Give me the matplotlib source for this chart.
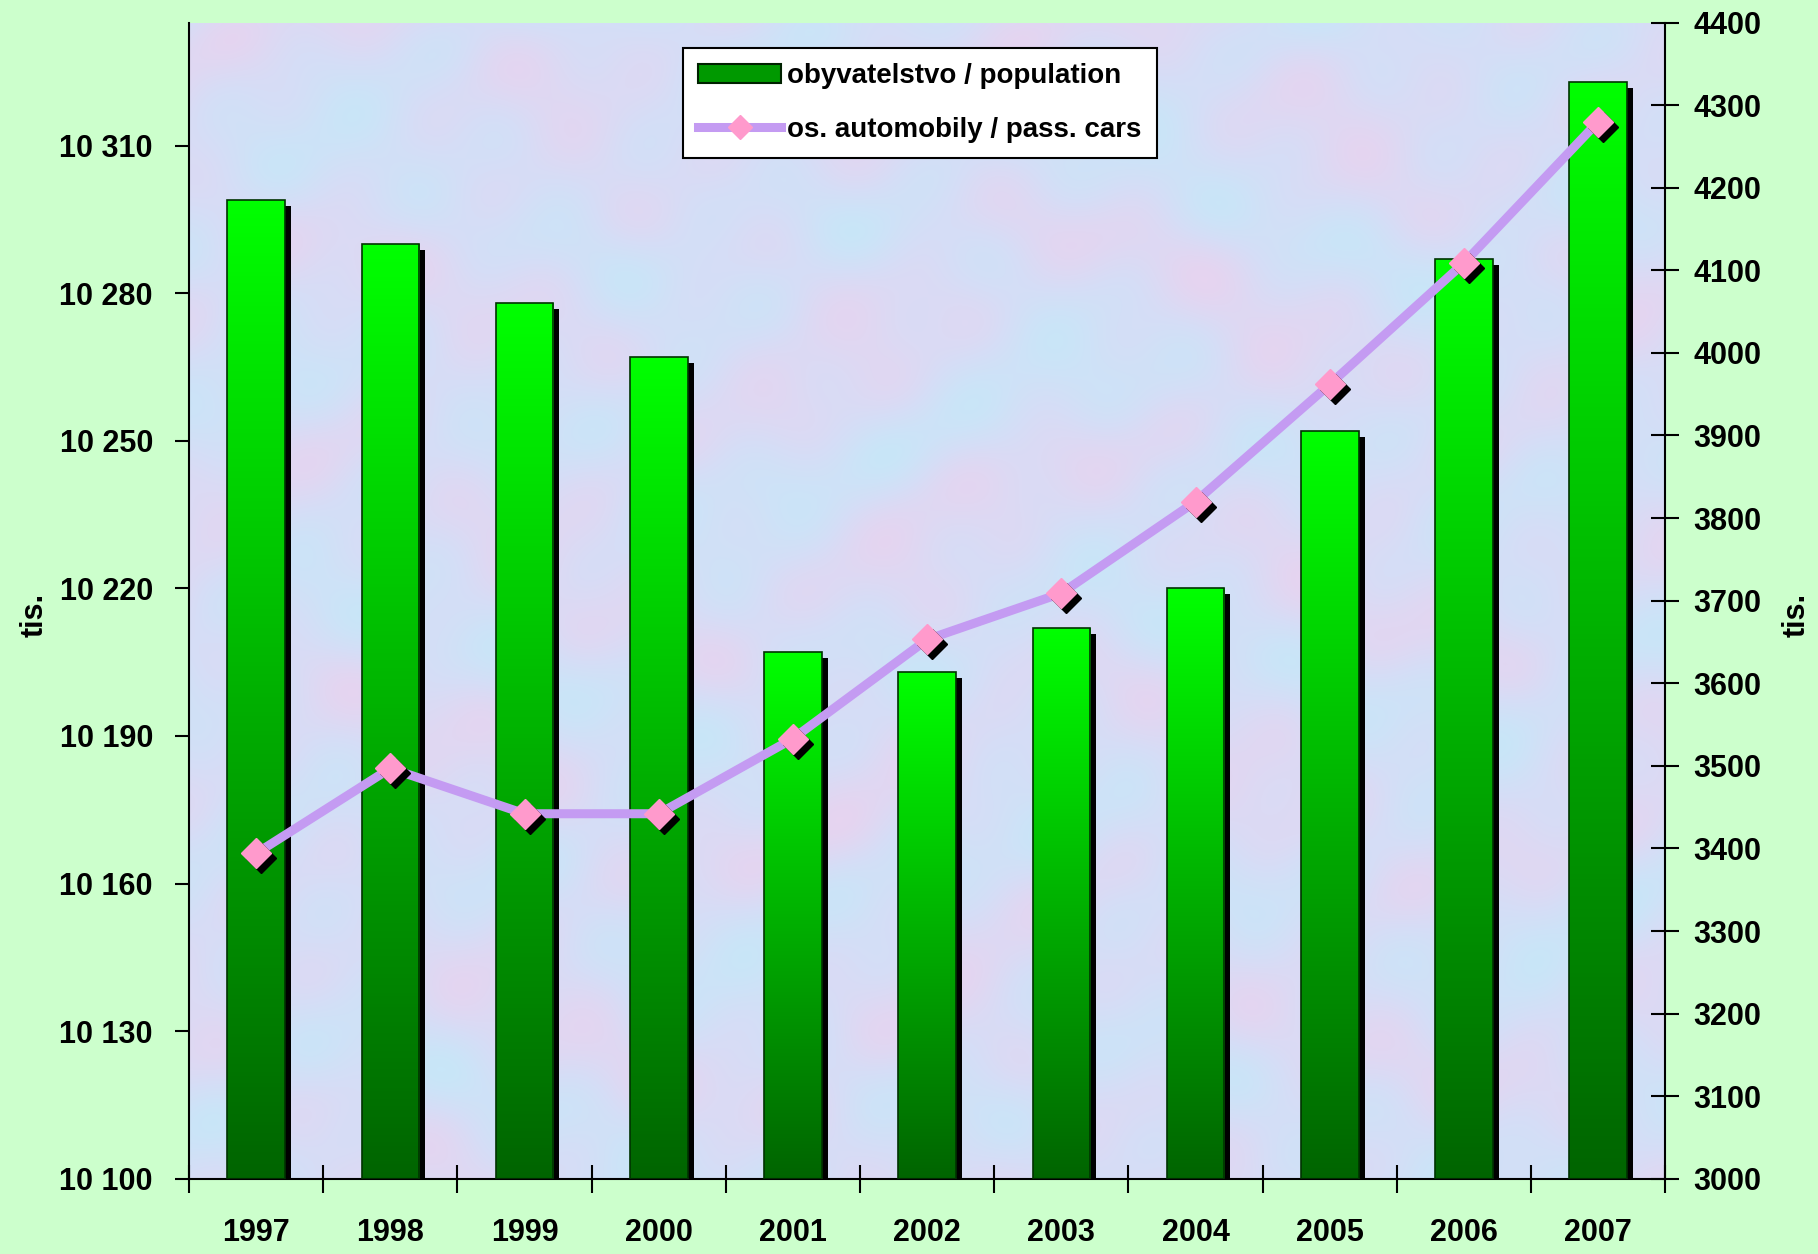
import numpy as np
import matplotlib
matplotlib.use("Agg")
import matplotlib.pyplot as plt
from matplotlib.colors import LinearSegmentedColormap
from matplotlib.transforms import ScaledTranslation
from matplotlib.patches import Patch
from matplotlib.lines import Line2D

# ______________________________________________________________________________
# Data

years = ["1997", "1998", "1999", "2000", "2001", "2002",
         "2003", "2004", "2005", "2006", "2007"]
# obyvatelstvo / population (tis.)
population = [10299, 10290, 10278, 10267, 10207, 10203,
              10212, 10220, 10252, 10287, 10323]
# os. automobily / pass. cars (tis.)
cars = [3394, 3497, 3442, 3442, 3533, 3653,
        3709, 3820, 3962, 4109, 4280]

left_ticks = [10100, 10130, 10160, 10190, 10220, 10250, 10280, 10310]
right_ticks = [3000, 3100, 3200, 3300, 3400, 3500, 3600, 3700,
               3800, 3900, 4000, 4100, 4200, 4300, 4400]

# ______________________________________________________________________________
# Style

plt.rcParams['font.family'] = ['Liberation Sans Narrow', 'Liberation Sans', 'DejaVu Sans']
plt.rcParams['font.weight'] = 'bold'
plt.rcParams['font.size'] = 22

fig_bg = '#CCFFCC'
line_col = '#C49BF2'
marker_col = '#FF9ACC'

fig = plt.figure(figsize=(18.18, 12.54), dpi=100, facecolor=fig_bg)
pos = [0.104, 0.06, 0.812, 0.922]

# mottled background of the plot area (smooth pattern, decoration only)
axbg = fig.add_axes(pos, zorder=0)
gx, gy = np.meshgrid(np.linspace(0, 1, 400), np.linspace(0, 1, 300))
pat = (np.sin(23 * gx + 3 * np.sin(17 * gy)) + np.sin(31 * gy + 2 * np.sin(13 * gx))
       + 0.6 * np.sin(57 * (gx + gy)) + 0.5 * np.sin(71 * gx - 43 * gy))
bgmap = LinearSegmentedColormap.from_list('bg', ['#C8E6F8', '#D6DDF6', '#E6D4F0'])
axbg.imshow(pat, cmap=bgmap, aspect='auto', extent=(0, 1, 0, 1), interpolation='bilinear')
axbg.set_axis_off()

ax = fig.add_axes(pos, zorder=1)
ax.set_facecolor('none')

x = np.arange(len(years))
width = 0.43
ymin, ymax = 10100, 10335

# bar shadows
shadow = ax.transData + ScaledTranslation(6 / 100, -6 / 100, fig.dpi_scale_trans)
ax.bar(x, np.array(population) - ymin, width, bottom=ymin, color='black',
       transform=shadow, zorder=1)

bars = ax.bar(x, np.array(population) - ymin, width, bottom=ymin,
              color='none', edgecolor='#003300', lw=1.2, zorder=3)

# vertical green gradient inside each bar
cmap = LinearSegmentedColormap.from_list('gr', ['#006400', '#00FF00'])
grad = np.linspace(0, 1, 256).reshape(-1, 1)
for b in bars:
    x0 = b.get_x()
    x1 = x0 + b.get_width()
    im = ax.imshow(grad, cmap=cmap, origin='lower', aspect='auto',
                   extent=(x0, x1, ymin, ymin + b.get_height()), zorder=2)
    im.set_clip_path(b)

ax.set_xlim(-0.5, len(years) - 0.5)
ax.set_ylim(ymin, ymax)
ax.set_yticks(left_ticks)
ax.set_yticklabels([f"{v // 1000} {v % 1000:03d}" for v in left_ticks])

ax.set_xticks(np.arange(-0.5, len(years), 1.0))
ax.set_xticklabels([])
ax.set_xticks(x, minor=True)
ax.set_xticklabels(years, minor=True)
ax.tick_params(axis='x', which='major', direction='inout', length=20, width=1.5)
ax.tick_params(axis='x', which='minor', length=0, pad=28)
ax.tick_params(axis='y', direction='out', length=10, width=1.5, pad=16)

ax.spines['top'].set_visible(False)
ax.spines['right'].set_visible(False)
ax.spines['left'].set_linewidth(1.5)
ax.spines['bottom'].set_linewidth(1.5)

# ______________________________________________________________________________
# Cars on the right axis

ax2 = ax.twinx()
ax2.set_ylim(3000, 4400)
ax2.set_yticks(right_ticks)
ax2.tick_params(axis='y', direction='inout', length=20, width=1.5, pad=10)
ax2.spines['top'].set_visible(False)
ax2.spines['left'].set_visible(False)
ax2.spines['bottom'].set_visible(False)
ax2.spines['right'].set_linewidth(1.5)

ax2.plot(x, cars, color=line_col, lw=6.5, zorder=2, solid_capstyle='round')
mshadow = ax2.transData + ScaledTranslation(5 / 100, -5 / 100, fig.dpi_scale_trans)
ax2.plot(x, cars, ls='none', marker='D', ms=15, color='black',
         transform=mshadow, zorder=3)
ax2.plot(x, cars, ls='none', marker='D', ms=15, color=marker_col,
         markeredgecolor=marker_col, zorder=4)

fig.text(0.019, 0.51, "tis.", rotation=90, ha='center', va='center', fontsize=22)
fig.text(0.988, 0.51, "tis.", rotation=90, ha='center', va='center', fontsize=22)

handles = [Patch(facecolor='#009900', edgecolor='#002200', lw=1.5),
           Line2D([], [], color=line_col, lw=6.5, marker='D', ms=12,
                  markerfacecolor=marker_col, markeredgecolor=marker_col)]
leg = ax2.legend(handles, ["obyvatelstvo / population", "os. automobily / pass. cars"],
                 loc='upper left', bbox_to_anchor=(0.325, 0.99), frameon=True,
                 fancybox=False, framealpha=1, edgecolor='black',
                 handlelength=3.0, handletextpad=0.2, borderpad=0.55,
                 labelspacing=1.0, fontsize=20)
leg.get_frame().set_linewidth(1.5)

fig.savefig("out.png", dpi=100, facecolor=fig_bg)
